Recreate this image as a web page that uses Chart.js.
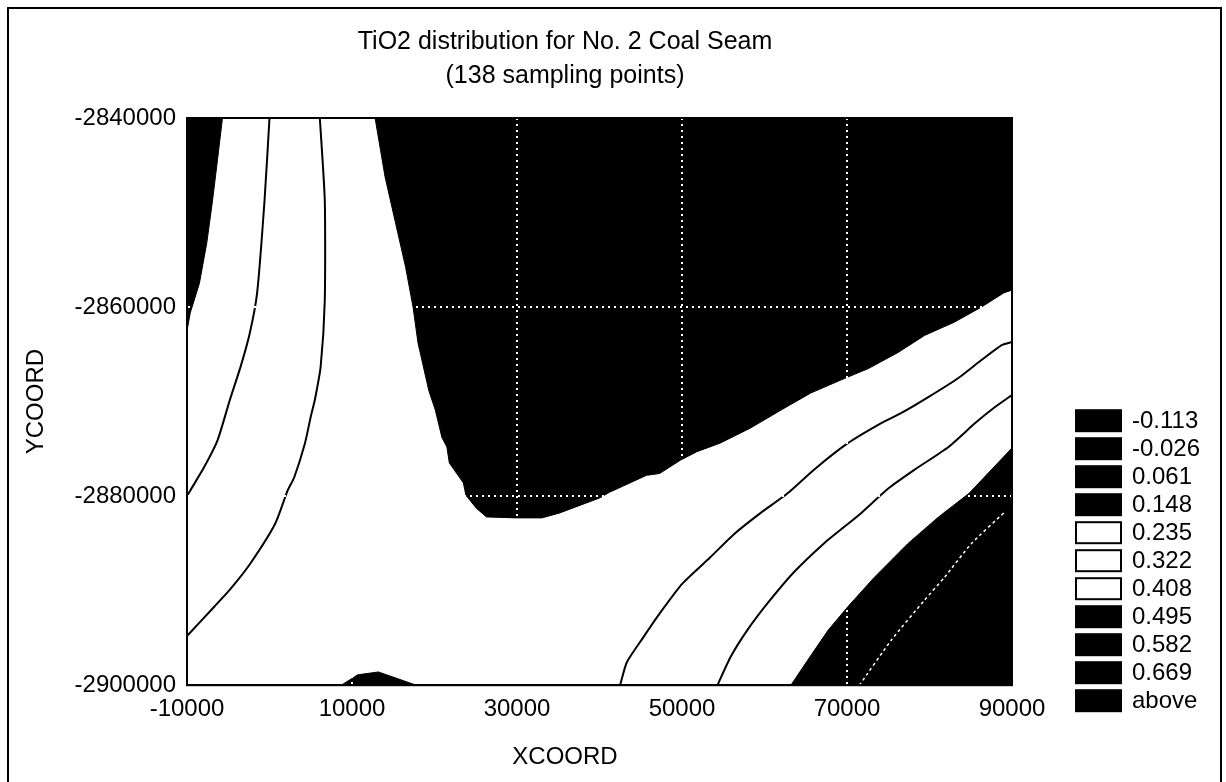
<!DOCTYPE html>
<html>
<head>
<meta charset="utf-8">
<title>TiO2 distribution for No. 2 Coal Seam</title>
<script src="https://cdn.jsdelivr.net/npm/chart.js@4.4.1/dist/chart.umd.min.js"></script>
<style>
  html, body { margin: 0; padding: 0; background: #fff; }
  #wrap { position: relative; width: 1226px; height: 782px; }
  #frame { position: absolute; left: 7px; top: 7px; width: 1211px; height: 790px;
           border: 2px solid #000; pointer-events: none; }
</style>
</head>
<body>
<div id="wrap">
  <canvas id="contourChart"></canvas>
  <div id="frame"></div>
</div>
<script>
// axis ticks
const xTicks = [-10000, 10000, 30000, 50000, 70000, 90000];
const yTicks = [-2900000, -2880000, -2860000, -2840000];

// level key (legend)
const levelLabels = ['-0.113', '-0.026', '0.061', '0.148', '0.235', '0.322', '0.408', '0.495', '0.582', '0.669', 'above'];
const levelFills = ['#000', '#000', '#000', '#000', '#fff', '#fff', '#fff', '#000', '#000', '#000', '#000'];

// filled (black) areas, [XCOORD, YCOORD]
const blackUpperLeft = [[-10000, -2840000], [-5700, -2840000], [-6300, -2844400], [-6900, -2848700], [-7600, -2853200],
  [-8500, -2857500], [-9600, -2860600], [-10000, -2862500]];
const blackMain = [[12800, -2840000], [14000, -2846200], [15200, -2850800], [16500, -2855800], [17400, -2860000],
  [18000, -2863800], [19300, -2868800], [20100, -2870900], [20900, -2873800], [21500, -2874800], [21800, -2876500],
  [23500, -2878600], [23800, -2879900], [25100, -2881300], [26300, -2882200], [29900, -2882300], [33000, -2882300],
  [35100, -2881800], [40000, -2880200], [41200, -2879600], [45700, -2877800], [47300, -2877600], [49800, -2876200],
  [51800, -2875300], [54600, -2874400], [58300, -2872800], [62000, -2870900], [65600, -2869100], [69300, -2867700],
  [72600, -2866500], [76200, -2864800], [79400, -2863000], [83000, -2861600], [86300, -2860000], [89000, -2858500],
  [90000, -2858200], [90000, -2840000]];
const blackBump = [[8700, -2900000], [10700, -2898900], [13200, -2898600], [17800, -2900000]];
const blackLowerRight = [[63200, -2900000], [65200, -2897400], [67700, -2894200], [70100, -2891700], [73300, -2888600],
  [77400, -2885000], [81100, -2882200], [84800, -2879700], [90000, -2874900], [90000, -2900000]];

// contour lines inside the white bands
const contourA = [[0, -2840000], [-600, -2848700], [-1500, -2858500], [-2400, -2862800], [-3500, -2866300],
  [-4800, -2869800], [-6300, -2874100], [-7900, -2876900], [-9600, -2879400], [-10000, -2880000]];
const contourB = [[6100, -2840000], [6700, -2848700], [6700, -2859300], [6200, -2866300], [5500, -2869800],
  [5000, -2871600], [4300, -2874400], [3000, -2878000], [2200, -2879400], [700, -2882900], [-2300, -2887100],
  [-4800, -2889900], [-6700, -2891700], [-10000, -2894800]];
const contourC = [[42500, -2900000], [43300, -2897600], [45100, -2895200], [47300, -2892400], [50100, -2889200],
  [53400, -2886500], [56200, -2884100], [59500, -2881800], [62800, -2879700], [66000, -2877200], [70100, -2874400],
  [74100, -2872300], [76600, -2871200], [79900, -2869500], [83500, -2867500], [86300, -2865600], [88800, -2864000],
  [90000, -2863700]];
const contourD = [[54300, -2900000], [55900, -2897000], [57900, -2894200], [60400, -2891300], [63500, -2888100],
  [67200, -2885000], [69600, -2883300], [71700, -2881800], [75000, -2879200], [78200, -2877200], [82300, -2874800],
  [85500, -2872300], [87900, -2870600], [90000, -2869300]];
// faint white contour inside the lower right black area
const whiteStreak = [[71500, -2900000], [75400, -2895200], [79400, -2891000], [81800, -2888600], [85100, -2885000],
  [89100, -2881700]];

const FONT = '"Liberation Sans", Arial, Helvetica, sans-serif';
Chart.defaults.font.family = FONT;
Chart.defaults.color = '#000';

function pts(arr) {
    return arr.map(p => ({ x: p[0], y: p[1] }));
}

function region(arr) {
    return {
        data: pts(arr), fill: 'shape', backgroundColor: '#000', borderColor: '#000',
        borderWidth: 1, pointRadius: 0, tension: 0, order: 2
    };
}

function contour(arr, color, width, dash) {
    return {
        data: pts(arr), fill: false, borderColor: color, borderWidth: width,
        borderDash: dash || [], pointRadius: 0, tension: 0.2, order: 1
    };
}

// level key drawn to the right of the plot
const levelKey = {
    id: 'levelKey',
    afterDraw(chart) {
        const { ctx, chartArea } = chart;
        const n = levelLabels.length;
        const x = chartArea.right + 64;
        ctx.save();
        ctx.font = '24px ' + FONT;
        ctx.textBaseline = 'middle';
        ctx.textAlign = 'left';
        levelLabels.forEach((lab, i) => {
            const cy = chartArea.bottom + 15 - (n - 1 - i) * 28;
            ctx.fillStyle = levelFills[i];
            ctx.fillRect(x, cy - 10, 45, 21);
            ctx.lineWidth = 2;
            ctx.strokeStyle = '#000';
            ctx.strokeRect(x, cy - 10, 45, 21);
            ctx.fillStyle = '#000';
            ctx.fillText(lab, x + 56, cy + 1);
        });
        ctx.restore();
    }
};

// black frame round the plot area
const plotFrame = {
    id: 'plotFrame',
    afterDraw(chart) {
        const { ctx, chartArea: a } = chart;
        ctx.save();
        ctx.lineWidth = 2;
        ctx.strokeStyle = '#000';
        ctx.strokeRect(a.left, a.top, a.right - a.left, a.bottom - a.top);
        ctx.restore();
    }
};

function gridColor(ctx) {
    const n = ctx.scale.ticks.length;
    return (ctx.index === 0 || ctx.index === n - 1) ? 'rgba(0,0,0,0)' : '#fff';
}

const ctx = document.getElementById('contourChart').getContext('2d');
const chart = new Chart(ctx, {
    type: 'line',
    data: {
        datasets: [
            contour(whiteStreak, '#fff', 1.5, [3, 3]),
            contour(contourA, '#000', 2),
            contour(contourB, '#000', 2),
            contour(contourC, '#000', 2),
            contour(contourD, '#000', 2),
            region(blackUpperLeft),
            region(blackMain),
            region(blackBump),
            region(blackLowerRight)
        ]
    },
    options: {
        responsive: true,
        maintainAspectRatio: false,
        animation: false,
        layout: { padding: { left: 0, right: 96, top: 0, bottom: 0 } },
        plugins: {
            legend: { display: false },
            tooltip: { enabled: false },
            title: {
                display: true,
                text: ['TiO2 distribution for No. 2 Coal Seam', '(138 sampling points)'],
                color: '#000',
                font: { size: 25, weight: 'normal', lineHeight: 34 / 25 },
                padding: { top: 25, bottom: 25 }
            },
            subtitle: {
                display: true,
                position: 'bottom',
                text: 'XCOORD',
                color: '#000',
                font: { size: 24, weight: 'normal', lineHeight: 1.2 },
                padding: { top: 18, bottom: 10 }
            }
        },
        scales: {
            x: {
                type: 'linear',
                min: -10000,
                max: 90000,
                afterBuildTicks: s => { s.ticks = xTicks.map(v => ({ value: v })); },
                afterFit: s => { s.height = 40; },
                ticks: { padding: 10, font: { size: 24 }, callback: v => String(v), maxRotation: 0 },
                grid: { color: gridColor, lineWidth: 2, drawTicks: false, z: 1 },
                border: { display: true, color: '#000', width: 2, dash: [2, 4], z: 1 }
            },
            y: {
                type: 'linear',
                min: -2900000,
                max: -2840000,
                afterBuildTicks: s => { s.ticks = yTicks.map(v => ({ value: v })); },
                afterFit: s => { s.width = 187; },
                ticks: { padding: 11, font: { size: 24 }, callback: v => String(v) },
                grid: { color: gridColor, lineWidth: 2, drawTicks: false, z: 1 },
                border: { display: true, color: '#000', width: 2, dash: [2, 4], z: 1 },
                title: {
                    display: true, text: 'YCOORD', color: '#000',
                    font: { size: 24, weight: 'normal', lineHeight: 1.2 },
                    padding: { top: 22, bottom: 0 }
                }
            },
            y2: {
                type: 'linear',
                position: 'right',
                afterFit: s => { s.width = 118; },
                ticks: { display: false },
                grid: { display: false, drawTicks: false },
                border: { display: false }
            }
        }
    },
    plugins: [levelKey, plotFrame]
});
</script>
</body>
</html>
